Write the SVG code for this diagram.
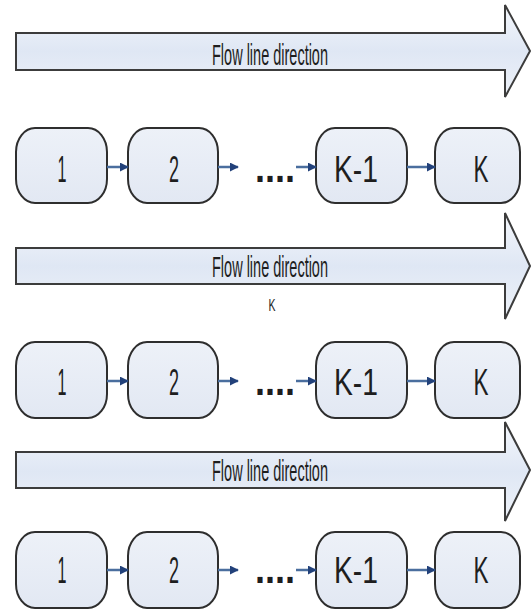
<svg xmlns="http://www.w3.org/2000/svg" width="531" height="611" viewBox="0 0 531 611">
  <defs>
    <linearGradient id="shaftFill" x1="0" y1="0" x2="0" y2="1">
      <stop offset="0" stop-color="#f4f7fc"/>
      <stop offset="0.5" stop-color="#dfe7f4"/>
      <stop offset="1" stop-color="#eef2f9"/>
    </linearGradient>
    <linearGradient id="nodeFill" x1="0" y1="0" x2="0" y2="1">
      <stop offset="0" stop-color="#edf1f8"/>
      <stop offset="1" stop-color="#e2e8f3"/>
    </linearGradient>
    <marker id="head" viewBox="0 0 10 10" refX="9" refY="5" markerWidth="9" markerHeight="9" markerUnits="userSpaceOnUse" orient="auto">
      <path d="M0,0 L10,5 L0,10 Z" fill="#22417a"/>
    </marker>
    <style>
      .flow { fill: url(#shaftFill); stroke: #3c3c3c; stroke-width: 2; stroke-linejoin: miter; }
      .node rect { fill: url(#nodeFill); stroke: #2e2e2e; stroke-width: 2; }
      .lbl { font-family: "Liberation Sans", Arial, sans-serif; fill: #1e1e1e; text-anchor: middle; }
      .flowlbl { font-size: 29px; }
      .numlbl { font-size: 36px; }
      .dots { font-family: "Liberation Sans", Arial, sans-serif; font-size: 40px; font-weight: bold; fill: #1e1e1e; }
      .conn line { stroke: #4a6e9e; stroke-width: 2.5; marker-end: url(#head); }
    </style>
  </defs>

  <rect width="531" height="611" fill="#ffffff"/>

  <!-- flow direction arrows -->
  <g id="flow1">
    <polygon class="flow" points="16,33 505,33 505,5 530,51 505,97 505,70 16,70"/>
    <text class="lbl flowlbl" x="270" y="65" textLength="116" lengthAdjust="spacingAndGlyphs">Flow line direction</text>
  </g>
  <g id="flow2">
    <polygon class="flow" points="16,248 505,248 505,213 530,266 505,319 505,284 16,284"/>
    <text class="lbl flowlbl" x="270" y="277" textLength="116" lengthAdjust="spacingAndGlyphs">Flow line direction</text>
    <text class="lbl" x="272" y="311" font-size="17" textLength="7" lengthAdjust="spacingAndGlyphs">K</text>
  </g>
  <g id="flow3">
    <polygon class="flow" points="16,452 505,452 505,422 530,470 505,521 505,488 16,488"/>
    <text class="lbl flowlbl" x="270" y="481" textLength="116" lengthAdjust="spacingAndGlyphs">Flow line direction</text>
  </g>

  <!-- row 1 stations -->
  <g id="r1n1" class="node"><rect x="16" y="128" width="91" height="75" rx="19" ry="24"/>
    <text class="lbl numlbl" x="62" y="182" textLength="9" lengthAdjust="spacingAndGlyphs">1</text></g>
  <g id="r1n2" class="node"><rect x="128" y="128" width="90" height="75" rx="19" ry="24"/>
    <text class="lbl numlbl" x="174" y="182" textLength="10" lengthAdjust="spacingAndGlyphs">2</text></g>
  <g id="r1nk1" class="node"><rect x="316" y="128" width="91" height="75" rx="19" ry="24"/>
    <text class="lbl numlbl" x="356" y="182" textLength="44" lengthAdjust="spacingAndGlyphs">K-1</text></g>
  <g id="r1nk" class="node"><rect x="435" y="128" width="85" height="75" rx="19" ry="24"/>
    <text class="lbl numlbl" x="481" y="182" textLength="15" lengthAdjust="spacingAndGlyphs">K</text></g>
  <text class="dots" x="255" y="182" textLength="40" lengthAdjust="spacingAndGlyphs">....</text>

  <!-- row 2 stations -->
  <g id="r2n1" class="node"><rect x="16" y="342" width="91" height="76" rx="19" ry="24"/>
    <text class="lbl numlbl" x="62" y="395" textLength="9" lengthAdjust="spacingAndGlyphs">1</text></g>
  <g id="r2n2" class="node"><rect x="128" y="342" width="90" height="76" rx="19" ry="24"/>
    <text class="lbl numlbl" x="174" y="395" textLength="10" lengthAdjust="spacingAndGlyphs">2</text></g>
  <g id="r2nk1" class="node"><rect x="316" y="342" width="91" height="76" rx="19" ry="24"/>
    <text class="lbl numlbl" x="356" y="395" textLength="44" lengthAdjust="spacingAndGlyphs">K-1</text></g>
  <g id="r2nk" class="node"><rect x="435" y="342" width="85" height="76" rx="19" ry="24"/>
    <text class="lbl numlbl" x="481" y="395" textLength="15" lengthAdjust="spacingAndGlyphs">K</text></g>
  <text class="dots" x="255" y="395" textLength="40" lengthAdjust="spacingAndGlyphs">....</text>

  <!-- row 3 stations -->
  <g id="r3n1" class="node"><rect x="16" y="532" width="91" height="76" rx="19" ry="24"/>
    <text class="lbl numlbl" x="62" y="583" textLength="9" lengthAdjust="spacingAndGlyphs">1</text></g>
  <g id="r3n2" class="node"><rect x="128" y="532" width="90" height="76" rx="19" ry="24"/>
    <text class="lbl numlbl" x="174" y="583" textLength="10" lengthAdjust="spacingAndGlyphs">2</text></g>
  <g id="r3nk1" class="node"><rect x="316" y="532" width="91" height="76" rx="19" ry="24"/>
    <text class="lbl numlbl" x="356" y="583" textLength="44" lengthAdjust="spacingAndGlyphs">K-1</text></g>
  <g id="r3nk" class="node"><rect x="435" y="532" width="85" height="76" rx="19" ry="24"/>
    <text class="lbl numlbl" x="481" y="583" textLength="15" lengthAdjust="spacingAndGlyphs">K</text></g>
  <text class="dots" x="255" y="583" textLength="40" lengthAdjust="spacingAndGlyphs">....</text>

  <!-- connectors between stations -->
  <g id="connectors" class="conn">
    <line x1="107" y1="167" x2="128" y2="167"/>
    <line x1="218" y1="167" x2="238" y2="167"/>
    <line x1="296" y1="167" x2="316" y2="167"/>
    <line x1="407" y1="167" x2="435" y2="167"/>

    <line x1="107" y1="381" x2="128" y2="381"/>
    <line x1="218" y1="381" x2="238" y2="381"/>
    <line x1="296" y1="381" x2="316" y2="381"/>
    <line x1="407" y1="381" x2="435" y2="381"/>

    <line x1="107" y1="570" x2="128" y2="570"/>
    <line x1="218" y1="570" x2="238" y2="570"/>
    <line x1="296" y1="570" x2="316" y2="570"/>
    <line x1="407" y1="570" x2="435" y2="570"/>
  </g>
</svg>
